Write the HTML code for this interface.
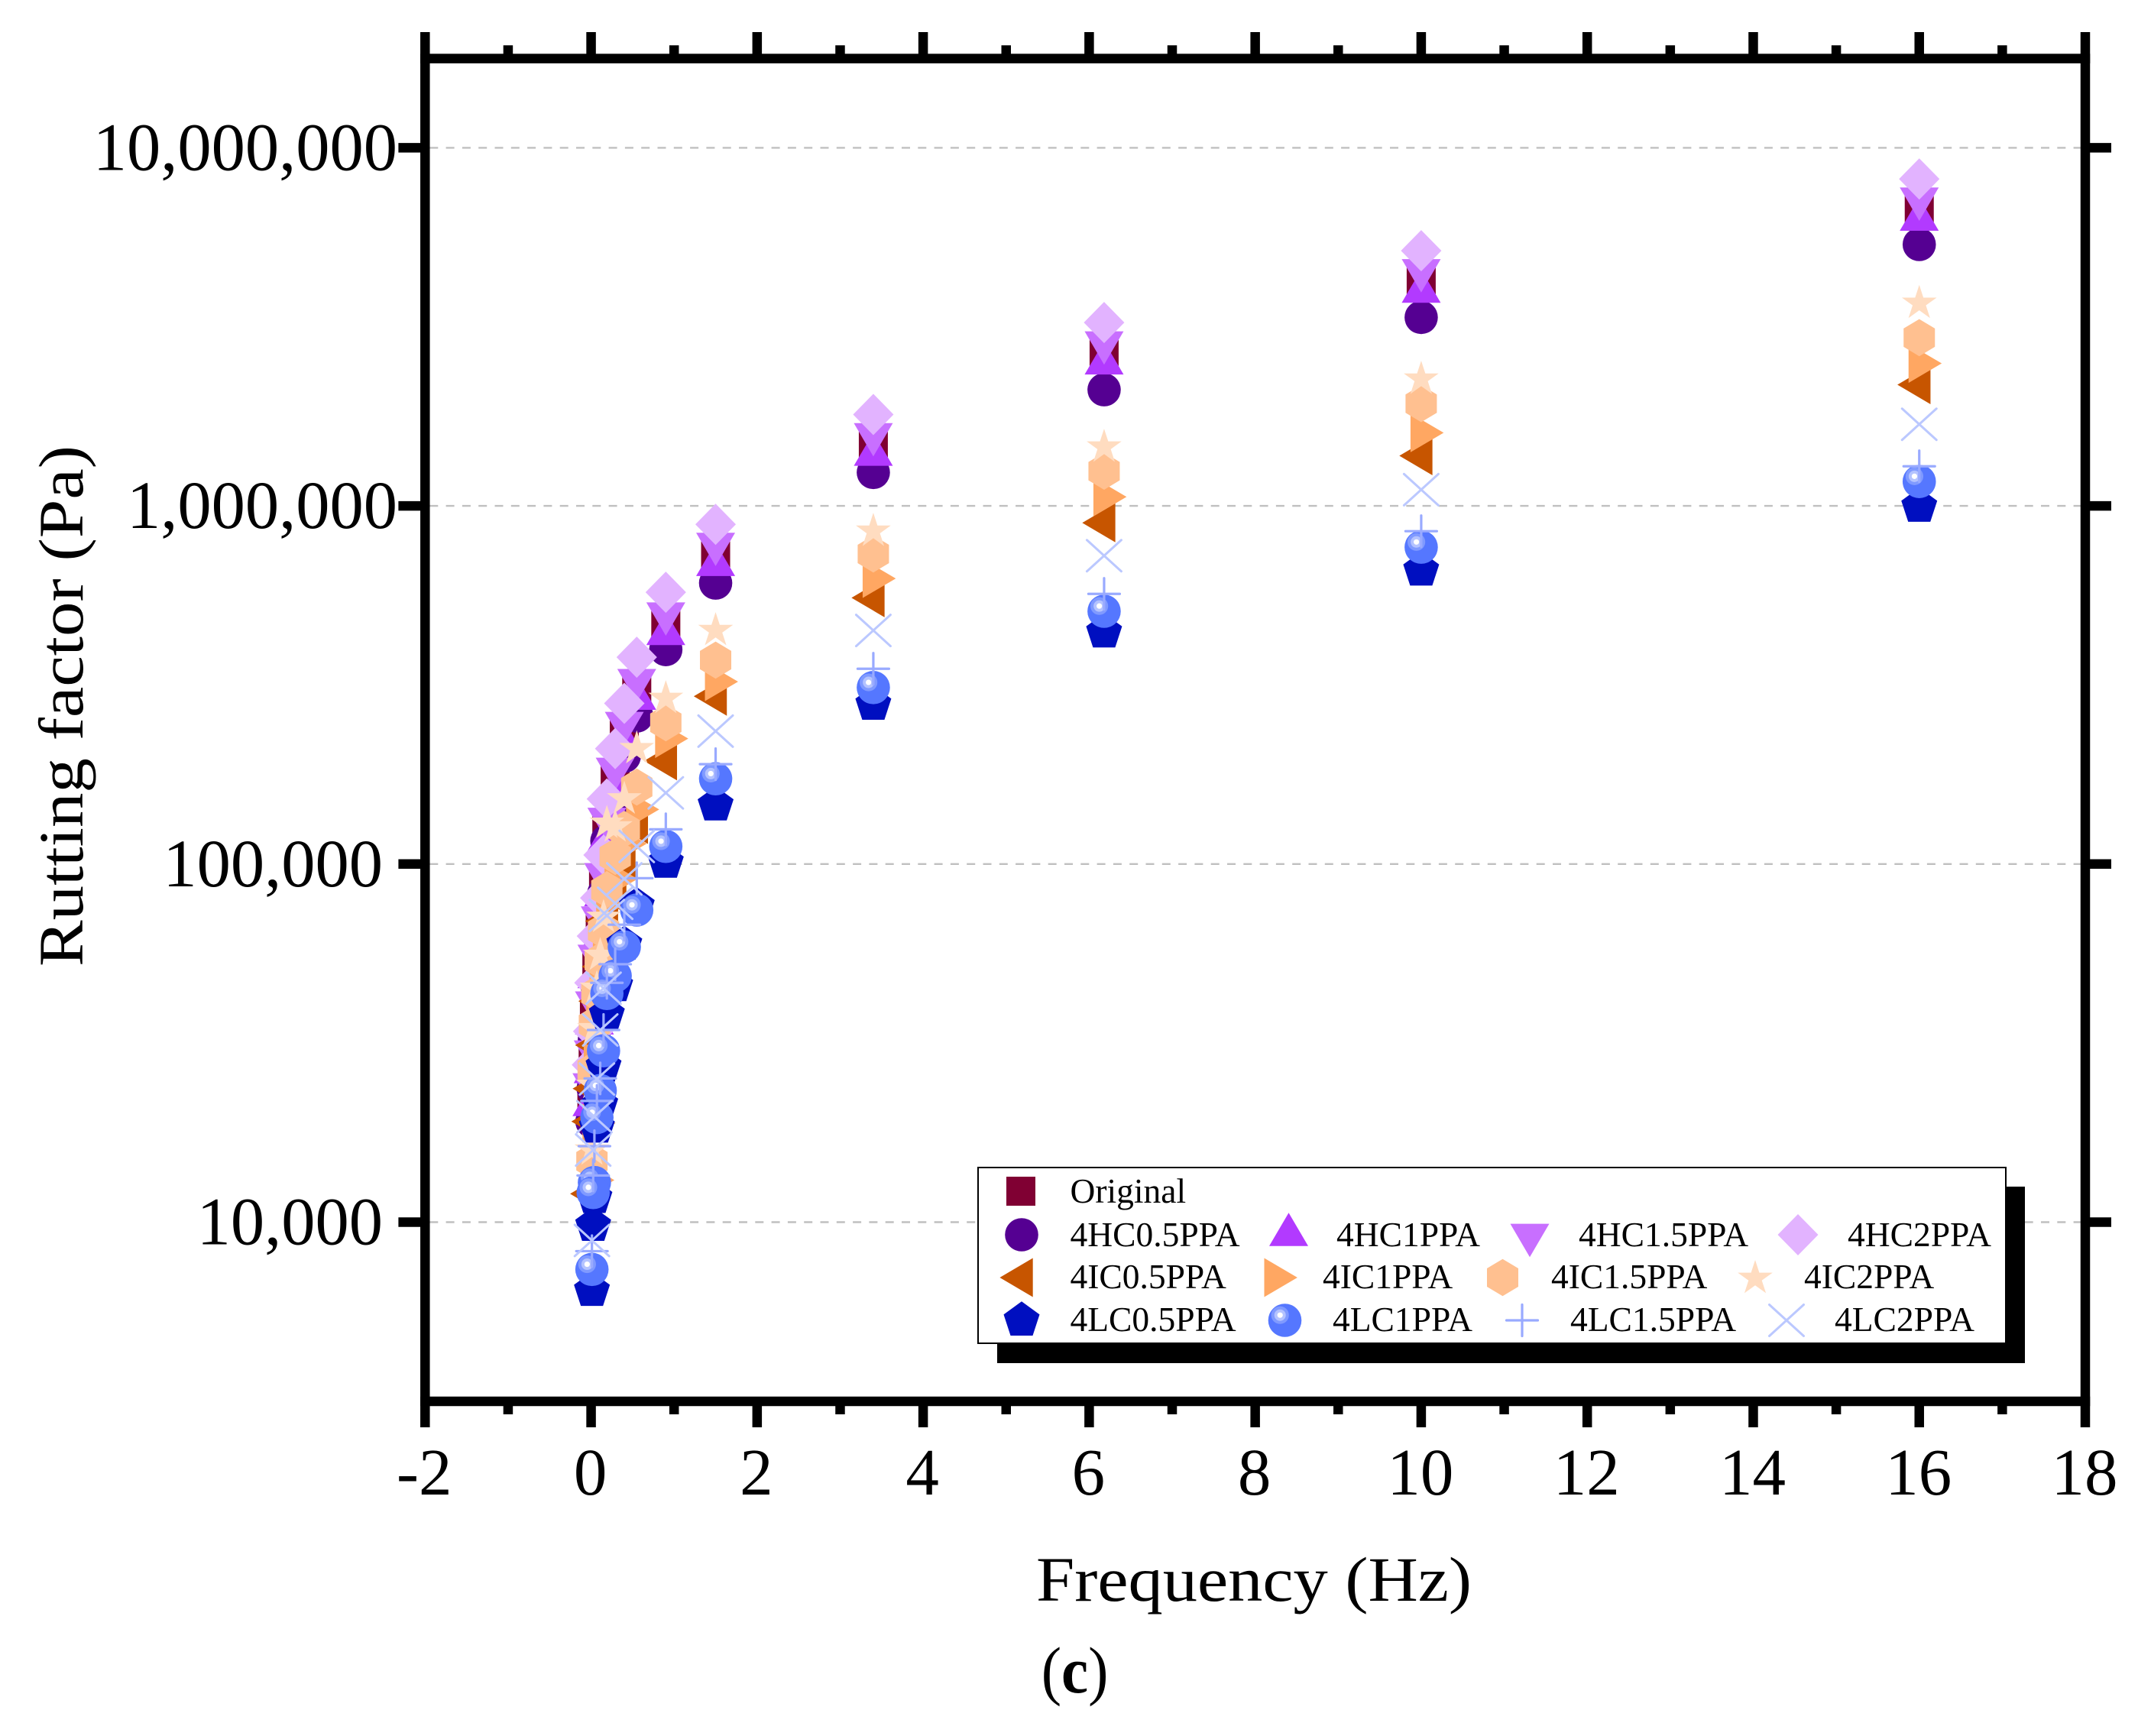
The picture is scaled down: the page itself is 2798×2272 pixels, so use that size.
<!DOCTYPE html>
<html lang="en">
<head>
<meta charset="utf-8">
<title>Rutting factor vs frequency</title>
<style>
html,body{margin:0;padding:0;background:#fff;}
svg{display:block;position:absolute;left:0;top:0;}
text{font-family:"Liberation Serif",serif;fill:#000;}
.tick-label{font-size:88.5px;}
.axis-title{font-size:83px;}
.legend-text{font-size:45.5px;}
</style>
</head>
<body>
<svg id="chart" xmlns="http://www.w3.org/2000/svg" width="2798" height="2272" viewBox="0 0 2798 2272">
  <defs>
    <g id="m-square"><rect x="-19" y="-19" width="38" height="38" fill="#800033"/></g>
    <g id="m-circle"><circle r="21.8" fill="#550092"/></g>
    <g id="m-up"><polygon points="0,-21.8 25.5,21.8 -25.5,21.8" fill="#b23aff"/></g>
    <g id="m-down"><polygon points="0,21.8 25.5,-21.8 -25.5,-21.8" fill="#c86fff"/></g>
    <g id="m-diamond"><polygon points="0,-27 26.5,0 0,27 -26.5,0" fill="#e2b3ff"/></g>
    <g id="m-left"><polygon points="-28.6,0 14.7,-25.5 14.7,25.5" fill="#c75500"/></g>
    <g id="m-right"><polygon points="29.4,0 -14,-25.5 -14,25.5" fill="#ffa762"/></g>
    <g id="m-hex"><polygon points="0,-24.3 20.5,-12 20.5,12 0,24.3 -20.5,12 -20.5,-12" fill="#ffc090"/></g>
    <g id="m-star"><polygon points="0,-24 5.4,-7.4 22.8,-7.4 8.7,2.8 14.1,19.4 0,9.2 -14.1,19.4 -8.7,2.8 -22.8,-7.4 -5.4,-7.4" fill="#ffdcc0"/></g>
    <g id="m-pentagon"><polygon points="0,-24.7 23.5,-7.6 14.5,20 -14.5,20 -23.5,-7.6" fill="#000fc0"/></g>
    <g id="m-sphere"><circle r="21.8" fill="#5577ff"/><circle cx="-6.3" cy="-6.8" r="11.6" fill="#809aff"/><circle cx="-6.3" cy="-6.8" r="7.5" fill="#b4c3ff"/><circle cx="-6.3" cy="-6.8" r="3.6" fill="#fff"/></g>
    <g id="m-plus"><path d="M-20.5,0H20.5M0,-20.5V20.5" stroke="#99aaff" stroke-width="3.2" fill="none" stroke-linecap="round"/></g>
    <g id="m-cross"><path d="M-22.5,-20.5L22.5,20.5M-22.5,20.5L22.5,-20.5" stroke="#bbc8ff" stroke-width="3" fill="none" stroke-linecap="round"/></g>
  </defs>

  <rect x="0" y="0" width="2798" height="2272" fill="#ffffff"/>
  <g id="grid"></g>
  <g id="marks"></g>
  <g id="axes"></g>

  <text class="axis-title" transform="translate(1641,2095) scale(1.09,1)" text-anchor="middle">Frequency (Hz)</text>
  <text class="axis-title" transform="translate(108,924) rotate(-90) scale(1.096,1)" text-anchor="middle">Rutting factor (Pa)</text>
  <text transform="translate(1406.6,2215) scale(0.92,1)" font-size="86" text-anchor="middle">(<tspan font-weight="bold">c</tspan>)</text>

  <g>
    <rect x="1305" y="1553" width="1345" height="231" fill="#000"/>
    <rect x="1280" y="1528" width="1345" height="230" fill="#fff" stroke="#000" stroke-width="2"/>

    <g><use href="#m-square" x="1336" y="1559"/><text class="legend-text" x="1400.5" y="1574">Original</text></g>

    <g><use href="#m-circle" x="1337" y="1616"/><text class="legend-text" x="1400.5" y="1631">4HC0.5PPA</text></g>
    <g><use href="#m-up" x="1686.5" y="1609"/><text class="legend-text" x="1749" y="1631">4HC1PPA</text></g>
    <g><use href="#m-down" x="2002" y="1623.4"/><text class="legend-text" x="2066" y="1631">4HC1.5PPA</text></g>
    <g><use href="#m-diamond" x="2353" y="1616"/><text class="legend-text" x="2418" y="1631">4HC2PPA</text></g>

    <g><use href="#m-left" x="1337" y="1672"/><text class="legend-text" x="1400.5" y="1686">4IC0.5PPA</text></g>
    <g><use href="#m-right" x="1668.5" y="1672"/><text class="legend-text" x="1731" y="1686">4IC1PPA</text></g>
    <g><use href="#m-hex" x="1966.5" y="1672"/><text class="legend-text" x="2030" y="1686">4IC1.5PPA</text></g>
    <g><use href="#m-star" x="2297" y="1673"/><text class="legend-text" x="2361" y="1686">4IC2PPA</text></g>

    <g><use href="#m-pentagon" x="1337" y="1728"/><text class="legend-text" x="1400.5" y="1742">4LC0.5PPA</text></g>
    <g><use href="#m-sphere" x="1681.5" y="1728"/><text class="legend-text" x="1744" y="1742">4LC1PPA</text></g>
    <g><use href="#m-plus" x="1992" y="1728"/><text class="legend-text" x="2055" y="1742">4LC1.5PPA</text></g>
    <g><use href="#m-cross" x="2338" y="1728"/><text class="legend-text" x="2401" y="1742">4LC2PPA</text></g>
  </g>
</svg>

<script>
const frequency = [16,10,6.18,3.4,1.5,0.9,0.55,0.4,0.29,0.19,0.15,0.11,0.07,0.04,0.025,0.01];

const original = [6690000,4220000,2660000,1470000,726000,469000,303000,230000,172000,124000,87000,65700,51400,38100,27800,22500];
const hc05 = [5370000,3360000,2110000,1240000,609000,397000,259000,200000,149000,116000,82400,57000,45700,32400,23600,19100];
const hc1 = [6530000,4110000,2590000,1440000,709000,455000,300000,225000,167000,121000,84800,64100,50100,37200,27200,22000];
const hc15 = [6960000,4390000,2760000,1530000,756000,483000,315000,239000,178000,129000,90400,68400,53500,39600,28900,23400];
const hc2 = [8180000,5160000,3250000,1800000,888000,574000,378000,281000,210000,152000,106000,80400,62900,46600,34100,27500];
const ic05 = [2180000,1380000,897000,554000,294000,194000,129000,103000,82400,69300,51700,41400,31200,23600,19100,12000];
const ic1 = [2500000,1600000,1060000,627000,323000,224000,142000,114000,90900,78500,58400,48000,37500,28000,18900,13100];
const ic15 = [2950000,1930000,1250000,734000,371000,248000,164000,125000,105000,84800,65100,53700,43500,35700,26600,14800];
const ic2 = [3680000,2260000,1460000,850000,449000,290000,210000,152000,127000,130000,71000,55600,45000,34700,24100,15900];
const lc05 = [996000,661000,444000,279000,146000,101000,76400,59600,45700,38000,27200,21300,18400,11700,9780,6440];
const lc1 = [1170000,767000,508000,311000,173000,112000,74400,58700,48700,43500,30100,23300,19600,12900,12100,7380];
const lc15 = [1290000,850000,568000,351000,190000,125000,91300,67700,52500,46600,34400,25200,21800,16300,13500,8300];
const lc2 = [1690000,1110000,726000,449000,235000,158000,112000,90900,77700,71800,45000,34400,25100,19700,15900,8890];

const xMajorTicks = [-2,0,2,4,6,8,10,12,14,16,18];
const xMinorTicks = [-1,1,3,5,7,9,11,13,15,17];
const xTickLabels = ["-2","0","2","4","6","8","10","12","14","16","18"];
const yTicks = [10000,100000,1000000,10000000];
const yTickLabels = ["10,000","100,000","1,000,000","10,000,000"];

const NS = 'http://www.w3.org/2000/svg';
const X_MIN = -2, X_MAX = 18, X_LEFT = 556.3, X_RIGHT = 2729;
const LOG_TOP = 7, PX_TOP = 193.4, PX_PER_DECADE = 468.7;
const AXIS_TOP = 76.6, AXIS_BOTTOM = 1834, SPINE = 12.5;

function xScale(v) { return X_LEFT + (v - X_MIN) / (X_MAX - X_MIN) * (X_RIGHT - X_LEFT); }
function yScale(v) { return PX_TOP + (LOG_TOP - Math.log10(v)) * PX_PER_DECADE; }

const grid = document.getElementById('grid');
const axes = document.getElementById('axes');
const marks = document.getElementById('marks');

function line(parent, x1, y1, x2, y2, width, color) {
  const el = document.createElementNS(NS, 'line');
  el.setAttribute('x1', x1);
  el.setAttribute('y1', y1);
  el.setAttribute('x2', x2);
  el.setAttribute('y2', y2);
  el.setAttribute('stroke', color);
  el.setAttribute('stroke-width', width);
  parent.appendChild(el);
  return el;
}

yTicks.forEach(function (v) {
  const g = line(grid, X_LEFT + 6, yScale(v), X_RIGHT - 6, yScale(v), 2.4, '#c0c0c0');
  g.setAttribute('stroke-dasharray', '11 10.3');
  
  
});

const seriesDraw = [
  { id: 'original', ref: 'm-square', values: original },
  { id: '4hc0-5ppa', ref: 'm-circle', values: hc05 },
  { id: '4hc1ppa', ref: 'm-up', values: hc1 },
  { id: '4hc1-5ppa', ref: 'm-down', values: hc15 },
  { id: '4hc2ppa', ref: 'm-diamond', values: hc2 },
  { id: '4ic0-5ppa', ref: 'm-left', values: ic05 },
  { id: '4ic1ppa', ref: 'm-right', values: ic1 },
  { id: '4ic1-5ppa', ref: 'm-hex', values: ic15 },
  { id: '4ic2ppa', ref: 'm-star', values: ic2 },
  { id: '4lc0-5ppa', ref: 'm-pentagon', values: lc05 },
  { id: '4lc1ppa', ref: 'm-sphere', values: lc1 },
  { id: '4lc1-5ppa', ref: 'm-plus', values: lc15 },
  { id: '4lc2ppa', ref: 'm-cross', values: lc2 }
];

seriesDraw.forEach(function (s) {
  const group = document.createElementNS(NS, 'g');
  
  
  s.values.forEach(function (v, i) {
    const u = document.createElementNS(NS, 'use');
    u.setAttribute('href', '#' + s.ref);
    u.setAttribute('x', xScale(frequency[i]));
    u.setAttribute('y', yScale(v));
    
    
    group.appendChild(u);
  });
  marks.appendChild(group);
});

/* spines */
const spineTop = line(axes, X_LEFT - SPINE / 2, AXIS_TOP, X_RIGHT + SPINE / 2, AXIS_TOP, SPINE, '#000');


const spineBottom = line(axes, X_LEFT - SPINE / 2, AXIS_BOTTOM, X_RIGHT + SPINE / 2, AXIS_BOTTOM, SPINE, '#000');


const spineLeft = line(axes, X_LEFT, AXIS_TOP, X_LEFT, AXIS_BOTTOM, SPINE, '#000');


const spineRight = line(axes, X_RIGHT, AXIS_TOP, X_RIGHT, AXIS_BOTTOM, SPINE, '#000');



/* x ticks */
xMajorTicks.forEach(function (v, i) {
  const px = xScale(v);
  const b = line(axes, px, AXIS_BOTTOM, px, 1868, SPINE, '#000');
  
  
  const t = line(axes, px, AXIS_TOP, px, 42, SPINE, '#000');
  
  
  const lab = document.createElementNS(NS, 'text');
  lab.setAttribute('class', 'tick-label');
  lab.setAttribute('x', px - 1);
  lab.setAttribute('y', 1956);
  lab.setAttribute('text-anchor', 'middle');
  lab.setAttribute('font-size', '87');
  lab.setAttribute('style', 'font-size:87px');
  
  
  lab.textContent = xTickLabels[i];
  axes.appendChild(lab);
});
xMinorTicks.forEach(function (v) {
  const px = xScale(v);
  const b = line(axes, px, AXIS_BOTTOM, px, 1851, SPINE, '#000');
  
  
  const t = line(axes, px, AXIS_TOP, px, 59.3, SPINE, '#000');
  
  
});

/* y ticks */
yTicks.forEach(function (v, i) {
  const py = yScale(v);
  const l = line(axes, X_LEFT, py, 521.4, py, SPINE, '#000');
  
  
  const r = line(axes, X_RIGHT, py, 2763, py, SPINE, '#000');
  
  
  const lab = document.createElementNS(NS, 'text');
  lab.setAttribute('class', 'tick-label');
  lab.setAttribute('x', yTickLabels[i].length > 7 ? 520 : 501);
  lab.setAttribute('y', py + 29);
  lab.setAttribute('text-anchor', 'end');
  
  
  lab.textContent = yTickLabels[i];
  axes.appendChild(lab);
});
</script>
</body>
</html>
